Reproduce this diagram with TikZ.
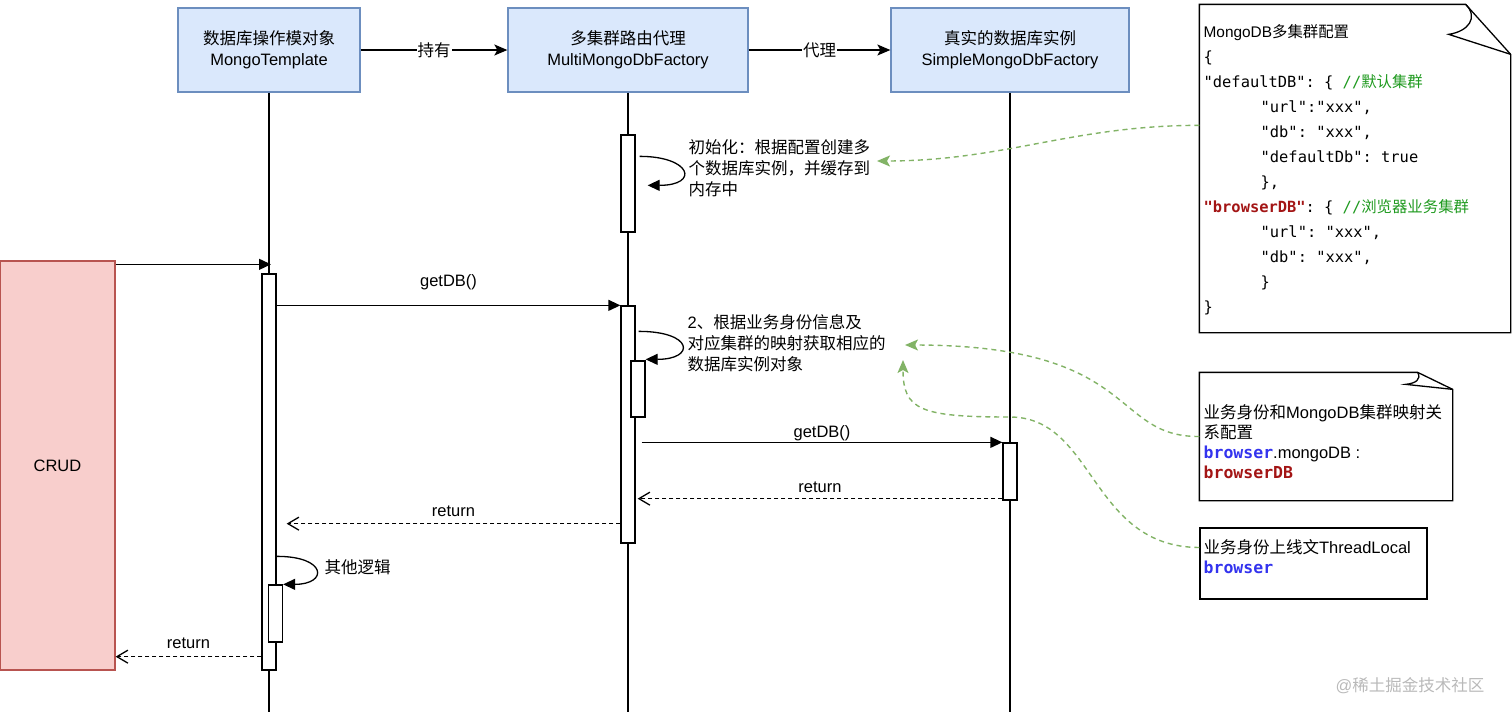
\documentclass[tikz,border=0pt]{standalone}
\usepackage{fontspec}
\setmainfont{Liberation Sans}
\setmonofont{DejaVu Sans Mono}
\newfontfamily\zhfont{Noto Sans CJK SC}
\newcommand{\zh}[1]{{\zhfont #1}}
\usetikzlibrary{arrows.meta, positioning, calc}

\definecolor{objfill}{HTML}{DAE8FC}
\definecolor{objline}{HTML}{6C8EBF}
\definecolor{crudfill}{HTML}{F8CECC}
\definecolor{crudline}{HTML}{B85450}
\definecolor{linkgreen}{HTML}{82B366}
\definecolor{keyred}{HTML}{A31515}
\definecolor{cmtgreen}{HTML}{1F9A1F}
\definecolor{idblue}{HTML}{3333EE}

\begin{document}
\begin{tikzpicture}[
    x=1pt, y=-1pt,
    font=\fontsize{16.5}{21}\selectfont,
    line width=1.3pt,
    obj/.style={draw=objline, fill=objfill, minimum height=84pt, align=center, inner sep=0pt},
    act/.style={draw, fill=white, minimum width=14pt, inner sep=0pt},
    msg/.style={-{Triangle[length=12pt, width=11pt]}},
    hasa/.style={-{Stealth[length=13pt, width=11pt, inset=3pt]}},
    ret/.style={dash pattern=on 4pt off 3pt, -{Straight Barb[length=11pt, width=13pt]}},
    lbl/.style={inner sep=2pt, align=left},
    link/.style={draw=linkgreen, line width=1.4pt, dash pattern=on 5pt off 4pt, -{Stealth[length=13pt, width=11pt, inset=3pt]}}
]
    \useasboundingbox (0,0) rectangle (1512,716);

    % 对象
    \node[obj, minimum width=182pt] (tpl) at (269,50) {\zh{数据库操作模对象}\\MongoTemplate};
    \node[obj, minimum width=240pt] (multi) at (628,50) {\zh{多集群路由代理}\\MultiMongoDbFactory};
    \node[obj, minimum width=238pt] (simple) at (1010,50) {\zh{真实的数据库实例}\\SimpleMongoDbFactory};

    \draw[hasa] (tpl) -- node[fill=white, inner sep=1pt] (hold) {\zh{持有}} (multi);
    \draw[hasa] (multi) -- node[fill=white, inner sep=1pt] (proxy) {\zh{代理}} (simple);

    % 生命线
    \coordinate (tplend) at (269,712);
    \coordinate (multiend) at (628,712);
    \coordinate (simpleend) at (1010,712);
    \draw (tpl) -- (tplend);
    \draw (multi) -- (multiend);
    \draw (simple) -- (simpleend);

    \node[act, minimum height=396pt] (actT) at (269,472) {};
    \node[act, minimum height=57pt] (actT2) at (275.5,613.5) {};
    \node[act, minimum height=97pt] (actM1) at (628,183.5) {};
    \node[act, minimum height=237pt] (actM2) at (628,424.5) {};
    \node[act, minimum height=56pt] (actM3) at (638,389) {};
    \node[act, minimum height=57pt] (actS) at (1010,471.5) {};

    \node[draw=crudline, fill=crudfill, minimum width=115pt, minimum height=409pt, inner sep=0pt] (crud) at (57.5,465.5) {CRUD};

    % 消息
    \coordinate (crudout) at ([yshift=-4pt]crud.north east);
    \draw[msg] (crudout) -- ([xshift=2pt]crudout -| tpl.south);
    \draw[msg] (actT.east |- actM2.north) -- node[above=15pt, inner sep=0pt] (get1) {getDB()} (actM2.north west);
    \draw[msg] ([xshift=6pt]actM2.east |- actS.north) -- node[above=1pt, inner sep=0pt] (get2) {getDB()} (actS.north west);
    \draw[ret] ([yshift=2pt]actS.south west) -- node[above=5pt, inner sep=0pt] (ret1) {return} ([shift={(2pt,2pt)}]actM2.east |- actS.south);
    \draw[ret] ([yshift=20pt]actM2.south west) -- node[above=6pt, inner sep=0pt] (ret2) {return} ([shift={(10pt,20pt)}]actT.east |- actM2.south);
    \draw[ret] ([yshift=14pt]actT.south west) -- node[above=7pt, inner sep=0pt] (ret3) {return} ([yshift=14pt]crud.south east);

    % 自调用
    \draw[msg] ([shift={(4pt,-22pt)}]actM1.north east) .. controls +(52pt,0pt) and +(52pt,0pt) .. ([shift={(12pt,-51pt)}]actM1.north east);
    \draw[msg] ([shift={(3pt,-26pt)}]actM2.north east) .. controls +(55pt,0pt) and +(50pt,0pt) .. ([yshift=1pt]actM3.north east);
    \draw[msg] ([shift={(-6pt,28pt)}]actT2.north east) .. controls +(50pt,0pt) and +(45pt,0pt) .. (actT2.north east);

    \node[lbl, anchor=west] (initlbl) at (686,168) {\zh{初始化：根据配置创建多}\\\zh{个数据库实例，并缓存到}\\\zh{内存中}};
    \node[lbl, anchor=west] (maplbl) at (685,343) {2\zh{、根据业务身份信息及}\\\zh{对应集群的映射获取相应的}\\\zh{数据库实例对象}};
    \node[lbl, anchor=west] (otherlbl) at (322,567) {\zh{其他逻辑}};

    % 配置说明
    \node[minimum width=310pt, minimum height=327pt, inner sep=0pt] (cfg) at (1355,168.5) {};
    \draw (cfg.south west) -- (cfg.north west) -- ($(cfg.north east)+(-45,0)$) -- ($(cfg.north east)+(0,50)$) -- (cfg.south east) -- cycle;
    \draw ($(cfg.north east)+(-45,0)$) .. controls ($(cfg.north east)+(-32,13)$) and ($(cfg.north east)+(-42,27)$) .. ($(cfg.north east)+(-62,30)$) -- ($(cfg.north east)+(0,50)$);
    \node[lbl, anchor=west, inner sep=0pt, font=\fontsize{15.4}{25}\selectfont] (cfgtxt) at (1203,170) {%
        MongoDB\zh{多集群配置}\\
        \texttt{\{}\\
        \texttt{"defaultDB": \{ \textcolor{cmtgreen}{//\zh{默认集群}}}\\
        \hspace*{57pt}\texttt{"url":"xxx",}\\
        \hspace*{57pt}\texttt{"db": "xxx",}\\
        \hspace*{57pt}\texttt{"defaultDb": true}\\
        \hspace*{57pt}\texttt{\},}\\
        \texttt{\textcolor{keyred}{\bfseries"browserDB"}: \{ \textcolor{cmtgreen}{//\zh{浏览器业务集群}}}\\
        \hspace*{57pt}\texttt{"url": "xxx",}\\
        \hspace*{57pt}\texttt{"db": "xxx",}\\
        \hspace*{57pt}\texttt{\}}\\
        \texttt{\}}};

    \node[minimum width=252pt, minimum height=127pt, inner sep=0pt] (map) at (1326,436.5) {};
    \draw (map.south west) -- (map.north west) -- ($(map.north east)+(-35,0)$) -- ($(map.north east)+(0,17)$) -- (map.south east) -- cycle;
    \draw ($(map.north east)+(-35,0)$) .. controls ($(map.north east)+(-31,7)$) and ($(map.north east)+(-37,11)$) .. ($(map.north east)+(-47,12)$) -- ($(map.north east)+(0,17)$);
    \node[lbl, anchor=west, inner sep=0pt, font=\fontsize{16.5}{20}\selectfont] (maptxt) at (1203,442) {%
        \zh{业务身份和}MongoDB\zh{集群映射关}\\
        \zh{系配置}\\
        {\ttfamily\bfseries\color{idblue}browser}.mongoDB :\\
        {\ttfamily\bfseries\color{keyred}browserDB}};

    \node[draw, minimum width=227pt, minimum height=71pt, inner sep=0pt] (ctx) at (1313.5,563.5) {};
    \node[lbl, anchor=west, inner sep=0pt, font=\fontsize{16.5}{20}\selectfont] (ctxtxt) at (1203,557) {%
        \zh{业务身份上线文}ThreadLocal\\
        {\ttfamily\bfseries\color{idblue}browser}};

    % 关联
    \coordinate (initin) at (877,161);
    \coordinate (mapin) at (905,345);
    \coordinate (ctxin) at (903,360);
    \coordinate (ctxmid) at (1010,417);
    \draw[link] ($(cfg.north west)+(0,121)$) to[out=180, in=0] (initin);
    \draw[link] (map.west) .. controls (1110,437) and (1140,345) .. (mapin);
    \draw[link] ($(ctx.west)+(0,-16)$) .. controls (1090,547) and (1095,417) .. (ctxmid) .. controls (920,417) and (903,410) .. (ctxin);

    \node[text=gray!55] (mark) at (1410,686) {@\zh{稀土掘金技术社区}};
\end{tikzpicture}
\end{document}
